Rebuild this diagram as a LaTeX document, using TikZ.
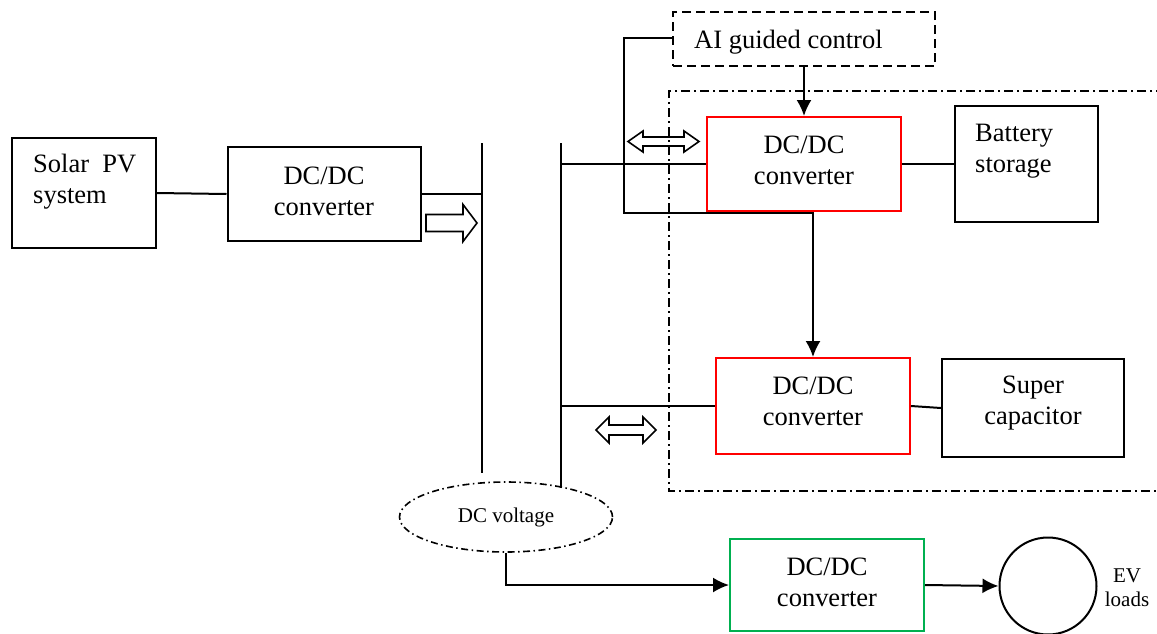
\documentclass[tikz,border=0pt]{standalone}
\usepackage{fontspec}
\setmainfont{Liberation Serif}
\usetikzlibrary{arrows.meta,shapes.geometric}
\definecolor{convred}{RGB}{255,0,0}
\definecolor{convgreen}{RGB}{0,176,80}
\begin{document}
\begin{tikzpicture}[x=1pt,y=-1pt,
  blk/.style={draw=black, line width=2pt, rectangle, inner sep=0pt},
  redblk/.style={blk, draw=convred},
  greenblk/.style={blk, draw=convgreen},
  aibox/.style={blk, dash pattern=on 9pt off 5pt, line width=2.4pt},
  txt/.style={inner sep=0pt, align=center, font=\fontsize{26.5}{31}\selectfont},
  smalltxt/.style={inner sep=0pt, align=center, font=\fontsize{21}{24}\selectfont},
  conn/.style={line width=2pt},
  arr/.style={conn, -{Latex[length=16pt,width=15pt]}},
  bus/.style={line width=2pt},
  region/.style={line width=1.6pt, dash pattern=on 9pt off 4pt on 2pt off 4pt},
  hollow/.style={draw, line width=1.6pt, line join=miter},
]
\useasboundingbox (0,0) rectangle (1157,633);

% storage region (open to the right)
\draw[region] (1165,91) -- (669,91) -- (669,491) -- (1165,491);

% blocks
\node[blk, minimum width=144pt, minimum height=110pt] (solar) at (84,193) {};
\node[txt, anchor=west, align=left] (solarT) at (33,182) {Solar\ \ PV\\system};

\node[blk, minimum width=193pt, minimum height=94pt] (dc1) at (324,194) {};
\node[txt] (dc1T) at ([yshift=3pt]dc1.center) {DC/DC\\converter};

\node[redblk, minimum width=194pt, minimum height=94pt] (dc2) at (804,164) {};
\node[txt] (dc2T) at ([yshift=4pt]dc2.center) {DC/DC\\converter};

\node[blk, minimum width=143pt, minimum height=116pt] (bat) at (1026,164) {};
\node[txt, anchor=west, align=left] (batT) at (975,151) {Battery\\storage};

\node[aibox, minimum width=262pt, minimum height=54pt] (ai) at (804,39) {};
\node[txt, anchor=base west] (aiT) at (694,48) {AI guided control};

\node[redblk, minimum width=194pt, minimum height=96pt] (dc3) at (813,406) {};
\node[txt] (dc3T) at ([yshift=5pt]dc3.center) {DC/DC\\converter};

\node[blk, minimum width=182pt, minimum height=98pt] (sup) at (1033,408) {};
\node[txt] (supT) at ([yshift=4.5pt]sup.center) {Super\\capacitor};

\node[greenblk, minimum width=194pt, minimum height=92pt] (dc4) at (827,585) {};
\node[txt] (dc4T) at ([yshift=3pt]dc4.center) {DC/DC\\converter};

\node[ellipse, draw, line width=1.6pt, dash pattern=on 7pt off 3.5pt on 1.5pt off 3.5pt,
      minimum width=213pt, minimum height=70pt, inner sep=0pt, smalltxt] (volt) at (506,517) {DC voltage};

\node[circle, draw, line width=2pt, minimum size=97pt, inner sep=0pt] (circ) at (1048,586) {};
\node[smalltxt] (evT) at (1127,588) {EV\\loads};

% DC bus lines
\coordinate (b1top) at (482,143);
\coordinate (b1bot) at (482,473);
\coordinate (b2top) at (561,143);
\coordinate (b2bot) at (561,488);
\draw[bus] (b1top) -- (b1bot);
\draw[bus] (b2top) -- (b2bot);

% connections
\draw[conn] (solar.east) -- (dc1.west);
\draw[conn] (dc1.east) -- (dc1.east -| b1top);
\draw[conn] (dc2.west -| b2top) -- (dc2.west);
\draw[conn] (dc3.west -| b2top) -- (dc3.west);
\draw[conn] (dc2.east) -- (bat.west);
\draw[conn] (dc3.east) -- (sup.west);
\draw[arr] (ai.south) -- (ai.south |- dc2.north);

% control path
\coordinate (ctop) at (624,38);
\coordinate (cbot) at (624,213);
\draw[arr] (ctop -| ai.west) -- (ctop) -- (cbot) -- (cbot -| dc3.north) -- (dc3.north);

% load path
\draw[arr] (volt.south) |- (dc4.west);
\draw[arr] (dc4.east) -- (circ.west);

% power flow arrows
\draw[hollow] (426,214.5) -- (463,214.5) -- (463,204.5) -- (477,223) -- (463,241.5) -- (463,231.5) -- (426,231.5) -- cycle;
\draw[hollow] (628,141.5) -- (643,131) -- (643,137) -- (684,137) -- (684,131) -- (699,141.5) -- (684,152) -- (684,146) -- (643,146) -- (643,152) -- cycle;
\draw[hollow] (596,430) -- (609,417) -- (609,425) -- (643,425) -- (643,417) -- (656,430) -- (643,443) -- (643,435) -- (609,435) -- (609,443) -- cycle;
\end{tikzpicture}
\end{document}
